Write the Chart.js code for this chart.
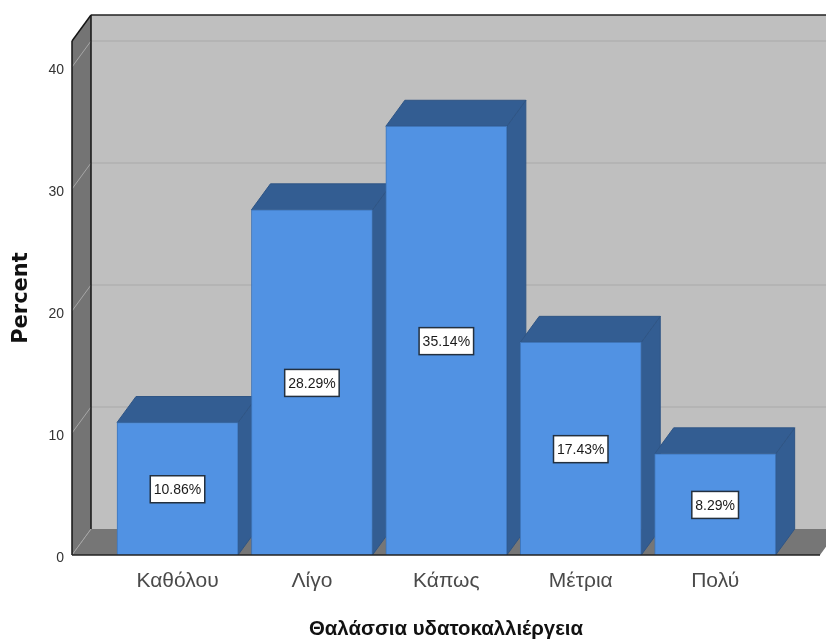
<!DOCTYPE html>
<html>
<head>
<meta charset="utf-8">
<style>html,body{margin:0;padding:0;background:#fff;overflow:hidden}canvas{display:block}</style>
<script src="https://cdn.jsdelivr.net/npm/chart.js@4"></script>
</head>
<body>
<canvas id="c" width="826" height="641"></canvas>
<script>
const categories = ["Καθόλου", "Λίγο", "Κάπως", "Μέτρια", "Πολύ"];
const percents = [10.86, 28.29, 35.14, 17.43, 8.29];
const yTicks = [0, 10, 20, 30, 40];
const xAxisTitle = "Θαλάσσια υδατοκαλλιέργεια";
const yAxisTitle = "Percent";

const DX = 19, DY = -26;

function poly(ctx, pts, fill, stroke, lw) {
  ctx.beginPath();
  pts.forEach((p, i) => i ? ctx.lineTo(p[0], p[1]) : ctx.moveTo(p[0], p[1]));
  ctx.closePath();
  if (fill) { ctx.fillStyle = fill; ctx.fill(); }
  if (stroke) { ctx.strokeStyle = stroke; ctx.lineWidth = lw || 1; ctx.stroke(); }
}
function line(ctx, x1, y1, x2, y2, color, lw) {
  ctx.beginPath(); ctx.moveTo(x1, y1); ctx.lineTo(x2, y2);
  ctx.strokeStyle = color; ctx.lineWidth = lw || 1; ctx.stroke();
}

const box3d = {
  id: "box3d",
  beforeDatasetsDraw(chart) {
    const { ctx, chartArea: a, scales: { y } } = chart;
    ctx.save();
    poly(ctx, [[a.left + DX, a.top + DY], [a.right + DX, a.top + DY], [a.right + DX, a.bottom + DY], [a.left + DX, a.bottom + DY]], "#bfbfbf");
    poly(ctx, [[a.left, a.top], [a.left + DX, a.top + DY], [a.left + DX, a.bottom + DY], [a.left, a.bottom]], "#747474");
    poly(ctx, [[a.left, a.bottom], [a.right, a.bottom], [a.right + DX, a.bottom + DY], [a.left + DX, a.bottom + DY]], "#767676");
    yTicks.forEach(v => {
      const py = y.getPixelForValue(v);
      line(ctx, a.left, py, a.left + DX, py + DY, "#a6a6a6", 1);
      if (v > 0) line(ctx, a.left + DX, py + DY, a.right + DX, py + DY, "#b4b4b4", 2);
    });
    line(ctx, a.left + DX, a.top + DY, a.left + DX, a.bottom + DY, "#151515", 1.5);
    line(ctx, a.left, a.top, a.left, a.bottom, "#151515", 1.5);
    line(ctx, a.left, a.top, a.left + DX, a.top + DY, "#151515", 1.5);
    line(ctx, a.left + DX, a.top + DY, a.right + DX, a.top + DY, "#222222", 1.5);
    chart.getDatasetMeta(0).data.forEach(b => {
      const l = b.x - b.width / 2, r = b.x + b.width / 2;
      poly(ctx, [[r, b.y], [r + DX, b.y + DY], [r + DX, b.base + DY], [r, b.base]], "#335d92", "#2f5585", 1);
      poly(ctx, [[l, b.y], [l + DX, b.y + DY], [r + DX, b.y + DY], [r, b.y]], "#335d92", "#2f5585", 1);
    });
    ctx.restore();
  },
  afterDatasetsDraw(chart) {
    const { ctx, chartArea: a } = chart;
    ctx.save();
    line(ctx, a.left, a.bottom, a.right, a.bottom, "#222222", 1.5);
    ctx.font = "14px 'Liberation Sans'";
    ctx.textAlign = "center";
    ctx.textBaseline = "middle";
    chart.getDatasetMeta(0).data.forEach((b, i) => {
      const cy = (b.y + b.base) / 2 + 0.5;
      const text = percents[i].toFixed(2) + "%";
      const w = ctx.measureText(text).width + 7, h = 27;
      ctx.fillStyle = "#ffffff";
      ctx.fillRect(b.x - w / 2, cy - h / 2, w, h);
      ctx.strokeStyle = "#23303f"; ctx.lineWidth = 1.5;
      ctx.strokeRect(b.x - w / 2, cy - h / 2, w, h);
      ctx.fillStyle = "#1a1a1a";
      ctx.fillText(text, b.x, cy + 1);
    });
    ctx.restore();
  }
};

new Chart(document.getElementById("c"), {
  type: "bar",
  data: {
    datasets: [{
      data: percents.map((v, i) => ({ x: i, y: v })),
      backgroundColor: "#5192e3",
      borderColor: "#3f75b8",
      borderWidth: 1,
      barThickness: 121
    }]
  },
  plugins: [box3d],
  options: {
    responsive: false,
    animation: false,
    layout: { padding: { top: 41, right: 6, left: 0, bottom: 0 } },
    plugins: { legend: { display: false }, tooltip: { enabled: false } },
    scales: {
      x: {
        type: "linear",
        offset: false,
        min: -0.785,
        max: 4.78,
        grid: { display: false },
        border: { display: false },
        afterBuildTicks(s) { s.ticks = categories.map((_, i) => ({ value: i })); },
        afterFit(s) { s.height = 86; },
        ticks: {
          autoSkip: false, maxRotation: 0, padding: 6,
          font: { family: "'Liberation Sans'", size: 21 },
          color: "#4a4a4a",
          callback: v => categories[v]
        },
        title: {
          display: true, text: xAxisTitle, color: "#111111",
          font: { family: "'Liberation Sans'", size: 20.4, weight: "bold" },
          padding: { top: 0, bottom: -1 }
        }
      },
      y: {
        min: 0,
        max: 42.13,
        grid: { display: false },
        border: { display: false },
        afterBuildTicks(s) { s.ticks = yTicks.map(v => ({ value: v })); },
        afterFit(s) { s.width = 72; },
        ticks: {
          padding: 0, labelOffset: 3,
          font: { family: "'Liberation Sans'", size: 14 },
          color: "#333333"
        },
        title: {
          display: true, text: yAxisTitle, color: "#111111",
          font: { family: "'DejaVu Sans'", size: 21, weight: "bold" },
          padding: { top: 9, bottom: 0 }
        }
      }
    }
  }
});
</script>
</body>
</html>
